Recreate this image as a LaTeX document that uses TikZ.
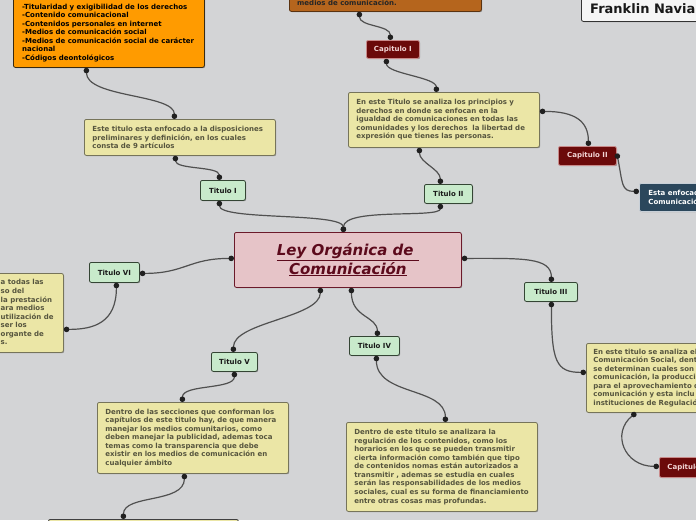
\documentclass[tikz,border=0pt]{standalone}
\usepackage{fontspec}
\setmainfont{DejaVu Sans}
\usetikzlibrary{arrows.meta,shadows}
\definecolor{bgcol}{HTML}{D3D4D6}
\definecolor{khakifill}{HTML}{EBE6A6}
\definecolor{khakiline}{HTML}{76745A}
\definecolor{khakitext}{HTML}{56553E}
\definecolor{greenfill}{HTML}{C8EACB}
\definecolor{greenline}{HTML}{344534}
\definecolor{capfill}{HTML}{6B0A0A}
\definecolor{capline}{HTML}{C98A8A}
\definecolor{captext}{HTML}{F2D5D5}
\definecolor{orangefill}{HTML}{FF9B00}
\definecolor{orangeline}{HTML}{3A2A10}
\definecolor{brownfill}{HTML}{B5651D}
\definecolor{brownline}{HTML}{5A3210}
\definecolor{mainfill}{HTML}{E6C4C8}
\definecolor{mainline}{HTML}{6B1A2A}
\definecolor{maintext}{HTML}{5C0A1C}
\definecolor{darkfill}{HTML}{2B475C}
\definecolor{darkline}{HTML}{C8D0D8}
\definecolor{franklinfill}{HTML}{F5F5F5}
\definecolor{linecol}{HTML}{505050}
\definecolor{dotcol}{HTML}{202020}
\tikzset{
  box/.style={draw, rounded corners=2pt, line width=0.8pt, anchor=north west, inner sep=0pt,
    drop shadow={shadow xshift=0.8pt, shadow yshift=-0.8pt, opacity=0.3, fill=black}},
  smallfont/.style={font=\fontsize{7}{8.55}\selectfont\bfseries},
  khaki/.style={box, smallfont, fill=khakifill, draw=khakiline, text=khakitext, align=left, inner xsep=8pt},
  titulo/.style={box, smallfont, fill=greenfill, draw=greenline, text=black!90, align=center},
  capitulo/.style={box, smallfont, fill=capfill, draw=capline, text=captext, align=center},
  conn/.style={draw=linecol, line width=1.2pt, {Circle[length=5.5pt,width=5.5pt,color=dotcol]}-{Circle[length=5.5pt,width=5.5pt,color=dotcol]}},
}
\begin{document}
\begin{tikzpicture}[x=1pt,y=-1pt]
\fill[bgcol] (0,0) rectangle (696,520);
\useasboundingbox (0,0) rectangle (696,520);
\clip (0,0) rectangle (696,520);

% top boxes
\node[box, fill=orangefill, draw=orangeline, minimum width=191pt, minimum height=112pt] (orange) at (13,-45) {};
\node[anchor=north west, inner sep=0pt, align=left, smallfont, text=black] (orangetext) at (22,3.5)
 {-Titularidad y exigibilidad de los derechos\\-Contenido comunicacional\\-Contenidos personales en internet\\-Medios de comunicación social\\-Medios de comunicación social de carácter\\nacional\\-Códigos deontológicos};
\node[box, fill=brownfill, draw=brownline, minimum width=192pt, minimum height=30pt] (brown) at (289,-19) {};
\node[anchor=west, inner sep=0pt, smallfont, text=black!85] (browntext) at (297,2.7) {medios de comunicación.};
\node[box, fill=franklinfill, draw=black!80, minimum width=130pt, minimum height=31pt] (franklin) at (581,-10) {};
\node[anchor=west, inner sep=0pt, font=\fontsize{13}{15}\selectfont\bfseries, text=black!90] (franklintext) at (590,8.5) {Franklin Navia};

% khaki text boxes
\node[khaki, text width=175pt, minimum height=36pt] (k1) at (84,119)
 {Este titulo esta enfocado a la disposiciones\\preliminares y definición, en los cuales\\consta de 9 artículos};
\node[khaki, text width=175pt, minimum height=55pt] (k2) at (348,92)
 {En este Titulo se analiza los principios y\\derechos en donde se enfocan en la\\igualdad de comunicaciones en todas las\\comunidades y los derechos\ \ la libertad de\\expresión que tienes las personas.};
\node[khaki, text width=175pt, minimum height=89pt] (k4) at (346,422)
 {Dentro de este titulo se analizara la\\regulación de los contenidos, como los\\horarios en los que se pueden transmitir\\cierta información como también que tipo\\de contenidos nomas están autorizados a\\transmitir , ademas se estudia en cuales\\serán las responsabilidades de los medios\\sociales, cual es su forma de financiamiento\\entre otras cosas mas profundas.};
\node[khaki, text width=175pt, minimum height=71pt] (k5) at (97,402)
 {Dentro de las secciones que conforman los\\capítulos de este titulo hay, de que manera\\manejar los medios comunitarios, como\\deben manejar la publicidad, ademas toca\\temas como la transparencia que debe\\existir en los medios de comunicación en\\cualquier ámbito};
\node[khaki, minimum width=73pt, minimum height=79pt] (lk) at (-10,273) {};
\node[anchor=west, inner sep=0pt, align=left, smallfont, text=khakitext] (lktext) at (0.5,312.3)
 {a todas las\\so del\\la prestación\\ara medios\\utilización de\\ser los\\organte de\\s.};
\node[khaki, text width=116pt, minimum height=69pt, inner xsep=7pt] (rk) at (586,343)
 {En este titulo se analiza el\\Comunicación Social, dent\\se determinan cuales son\\comunicación, la producci\\para el aprovechamiento d\\comunicación y esta inclu\\instituciones de Regulació};
\node[box, fill=khakifill, draw=black!75, minimum width=190pt, minimum height=40pt] (bot) at (48,519) {};

% dark box
\node[box, smallfont, fill=darkfill, draw=darkline, text=white, align=left, text width=64pt, inner xsep=9pt, minimum height=28pt] (dark) at (639,183)
 {Esta enfocado\\Comunicación};

% titulos
\node[titulo, minimum width=45pt, minimum height=20pt] (t1) at (200,180) {Titulo I};
\node[titulo, minimum width=48pt, minimum height=19pt] (t2) at (424,184) {Titulo II};
\node[titulo, minimum width=53pt, minimum height=19pt] (t3) at (524,282) {Titulo III};
\node[titulo, minimum width=50pt, minimum height=19pt] (t4) at (349,336) {Titulo IV};
\node[titulo, minimum width=46pt, minimum height=19pt] (t5) at (211,352) {Titulo V};
\node[titulo, minimum width=50pt, minimum height=20pt] (t6) at (89,262) {Titulo VI};

% capitulos
\node[capitulo, minimum width=53pt, minimum height=18pt] (c1) at (366,40) {Capitulo I};
\node[capitulo, minimum width=58pt, minimum height=19pt] (c2) at (558,146) {Capitulo II};
\node[capitulo, align=left, text width=45pt, inner xsep=8pt, minimum height=20pt] (c3) at (659,457) {Capitulo};

% main
\node[box, fill=mainfill, draw=mainline, text=maintext, minimum width=227pt, minimum height=55pt, align=center,
  font=\fontsize{15}{18.5}\selectfont\bfseries\itshape] (main) at (234,232)
 {\underline{Ley Orgánica de\ }\\\underline{Comunicación}};

% connectors
\draw[conn] ([xshift=-22.5pt]orange.south) .. controls +(0,30) and +(0,-25) .. ([xshift=-5.5pt]k1.north);
\draw[conn] ([xshift=-4.5pt]k1.south) .. controls +(0,14) and +(0,-14) .. ([xshift=-3.5pt]t1.north);
\draw[conn] ([xshift=-4.5pt]main.north) .. controls +(0,-20) and +(0,20) .. ([xshift=-3.5pt]t1.south);
\draw[conn] ([xshift=-4.5pt]main.north) .. controls +(0,-25) and +(0,15) .. ([xshift=-8pt]t2.south);
\draw[conn] ([xshift=-8pt]t2.north) .. controls +(0,-15) and +(0,15) .. ([xshift=-24.5pt]k2.south);
\draw[conn] ([xshift=-7.5pt]k2.north) .. controls +(0,-15) and +(0,15) .. ([xshift=-6.5pt]c1.south);
\draw[conn] ([xshift=-2.5pt]c1.north) .. controls +(0,-15) and +(0,15) .. ([xshift=-26pt]brown.south);
\draw[conn] ([yshift=8.5pt]k2.east) .. controls +(35,0) and +(0,-25) .. ([xshift=1pt]c2.north);
\draw[conn] ([yshift=2.5pt]c2.east) .. controls +(6,30) and +(-18,0) .. ([yshift=6pt]dark.west);
\draw[conn] ([yshift=1.5pt]main.west) .. controls +(-45,0) and +(45,0) .. ([yshift=-1pt]t6.east);
\draw[conn] ([xshift=2pt]t6.south) .. controls +(0,40) and +(30,0) .. ([yshift=-16.5pt]lk.east);
\draw[conn] ([yshift=1.5pt]main.east) .. controls +(60,0) and +(0,-25) .. ([xshift=0.5pt]t3.north);
\draw[conn] ([xshift=0.5pt]t3.south) .. controls +(0,60) and +(-30,0) .. ([yshift=5.5pt]rk.west);
\draw[conn] ([xshift=50pt]rk.south west) .. controls +(-25,20) and +(-35,0) .. ([yshift=1pt]c3.west);
\draw[conn] ([xshift=-27.5pt]main.south) .. controls +(0,30) and +(0,-30) .. ([xshift=-1pt]t5.north);
\draw[conn] ([xshift=3.5pt]main.south) .. controls +(0,30) and +(0,-20) .. ([xshift=3pt]t4.north);
\draw[conn] ([xshift=2pt]t4.south) .. controls +(0,40) and +(0,-35) .. ([xshift=3.5pt]k4.north);
\draw[conn] (t5.south) .. controls +(0,18) and +(0,-18) .. ([xshift=-10.5pt]k5.north);
\draw[conn] ([xshift=-8.5pt]k5.south) .. controls +(0,30) and +(0,-25) .. ([xshift=-20pt]bot.north);
\end{tikzpicture}
\end{document}
